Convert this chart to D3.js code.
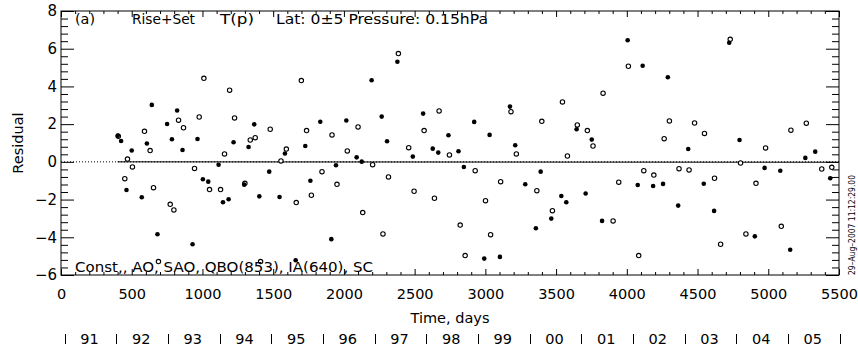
<!DOCTYPE html>
<html>
<head>
<meta charset="utf-8">
<script src="https://cdn.jsdelivr.net/npm/d3@7"></script>
<style>
  html, body { margin: 0; padding: 0; background: #fff; }
  svg { display: block; }
  text { font-family: "DejaVu Sans", "Liberation Sans", sans-serif; fill: #000; }
</style>
</head>
<body>
<svg id="chart" width="858" height="349"></svg>
<script>
// ---- data ----
const filledDays = [401,425,463,500,571,607,642,682,750,784,821,859,930,965,1003,1041,1114,1145,1185,1220,1295,1326,1366,1402,1472,1545,1583,1659,1727,1763,1833,1911,1944,2017,2090,2126,2196,2267,2305,2378,2487,2560,2628,2667,2739,2810,2848,2921,2992,3030,3103,3174,3211,3282,3357,3391,3466,3537,3572,3645,3709,3752,3825,4006,4077,4112,4186,4256,4290,4363,4434,4544,4617,4724,4797,4905,4974,5085,5155,5262,5332,5438];
const filledValues = [1.39,1.11,-1.49,0.60,-1.88,0.97,3.02,-3.84,2.01,1.20,2.72,0.63,-4.37,1.21,-0.92,-1.05,-0.15,-2.14,-1.98,1.04,-1.21,0.79,1.99,-1.83,-0.52,-1.86,0.44,-5.22,0.84,-1.00,2.13,-4.10,-0.18,2.19,0.24,0.01,4.33,2.40,1.09,5.31,0.28,2.56,0.70,0.49,1.41,0.56,-0.27,2.12,-5.13,1.43,-5.04,2.93,0.88,-1.19,-3.52,-0.52,-3.01,-1.81,-2.14,1.73,-1.68,1.18,-3.13,6.45,-1.23,5.10,-1.28,-1.17,4.49,-2.32,0.68,-1.16,-2.60,6.32,1.16,-3.95,-0.32,-0.47,-4.66,0.21,0.54,-0.87];

const openDays = [405,451,470,505,590,630,654,689,772,798,831,866,944,977,1010,1050,1128,1156,1192,1227,1300,1338,1373,1411,1479,1555,1593,1663,1699,1736,1770,1845,1916,1951,2024,2100,2133,2203,2276,2315,2385,2458,2496,2567,2640,2673,2746,2822,2857,2928,3001,3037,3108,3181,3219,3364,3399,3474,3545,3580,3650,3721,3761,3832,3903,3943,4011,4084,4120,4191,4264,4301,4369,4440,4479,4549,4620,4663,4731,4804,4842,4913,4981,5092,5160,5269,5378,5449];
const openValues = [1.36,-0.89,0.15,-0.27,1.62,0.60,-1.37,-5.29,-2.25,-2.55,2.21,1.81,-0.35,2.38,4.43,-1.47,-1.47,0.42,3.80,2.33,-1.14,1.16,1.28,-5.29,1.73,0.05,0.68,-2.16,4.31,1.66,-1.77,-0.52,1.43,-1.19,0.58,1.85,-2.69,-0.15,-3.82,-0.80,5.74,0.75,-1.56,1.66,-1.93,2.70,0.37,-3.35,-4.97,-0.47,-2.06,-3.86,-1.05,2.66,0.42,-1.53,2.15,-2.59,3.18,0.31,1.96,1.66,0.84,3.64,-3.13,-1.08,5.07,-4.97,-0.47,-0.70,1.23,2.17,-0.36,-0.43,2.06,1.51,-0.87,-4.37,6.50,-0.06,-3.82,-1.14,0.74,-3.42,1.68,2.05,-0.38,-0.29];

const trendDays = [400, 5500];
const trendValues = [0.0, -0.02];

const xTicks = [0,500,1000,1500,2000,2500,3000,3500,4000,4500,5000,5500];
const yTicks = [-6,-4,-2,0,2,4,6,8];
const yearLabels = ["91","92","93","94","95","96","97","98","99","00","01","02","03","04","05"];
const yearStartDay = 26;      // day number of 1 Jan 1991
const yearLength = 365.25;

const titleParts = ["(a)", "Rise+Set", "T(p)", "Lat: 0\u00b15 Pressure: 0.15hPa"];
const legendText = "Const,, AO, SAO, QBO(853), IA(640), SC";
const stampText = "29\u2013Aug\u20132007 11:12:29.00";
const xTitle = "Time, days";
const yTitle = "Residual";

// ---- layout ----
const L = 61, R = 839, T = 11, B = 275;
const svg = d3.select("#chart");
const x = d3.scaleLinear().domain([0, 5500]).range([L, R]);
const y = d3.scaleLinear().domain([-6, 8]).range([B, T]);

const g = svg.append("g");

// zero dotted line
g.append("line")
  .attr("x1", x(0)).attr("x2", x(5500))
  .attr("y1", y(0)).attr("y2", y(0))
  .attr("stroke", "#000").attr("stroke-width", 1)
  .attr("stroke-dasharray", "1,2");

// trend line
g.append("path")
  .datum(trendDays.map((d, i) => [d, trendValues[i]]))
  .attr("d", d3.line().x(d => x(d[0])).y(d => y(d[1])))
  .attr("stroke", "#000").attr("stroke-width", 1).attr("fill", "none");

// axes (ticks inward) using d3 axes
const minorX = d3.range(0, 5501, 100).filter(v => v % 500 !== 0);
const minorY = d3.range(0, 36).map(i => -6 + i * 0.4).filter((v, i) => i % 5 !== 0);

function styleAxis(sel) {
  sel.select(".domain").remove();
  sel.selectAll("line").attr("stroke", "#000").attr("stroke-width", 1);
}

// bottom
g.append("g").attr("transform", `translate(0,${B})`)
  .call(d3.axisBottom(x).tickValues(xTicks).tickSize(-6).tickPadding(14).tickFormat(d => d))
  .call(styleAxis)
  .call(s => s.selectAll("text").attr("font-size", 14.5).attr("font-family", "DejaVu Sans").attr("dy", "0.71em"));
g.append("g").attr("transform", `translate(0,${B})`)
  .call(d3.axisBottom(x).tickValues(minorX).tickSize(-3).tickFormat(""))
  .call(styleAxis);
// top
g.append("g").attr("transform", `translate(0,${T})`)
  .call(d3.axisTop(x).tickValues(xTicks).tickSize(-6).tickFormat(""))
  .call(styleAxis);
g.append("g").attr("transform", `translate(0,${T})`)
  .call(d3.axisTop(x).tickValues(minorX).tickSize(-3).tickFormat(""))
  .call(styleAxis);
// left
g.append("g").attr("transform", `translate(${L},0)`)
  .call(d3.axisLeft(y).tickValues(yTicks).tickSize(-13).tickPadding(5).tickFormat(d => d < 0 ? "\u2212" + Math.abs(d) : d))
  .call(styleAxis)
  .call(s => s.selectAll("text").attr("font-size", 15).attr("font-family", "DejaVu Sans").attr("x", -4));
g.append("g").attr("transform", `translate(${L},0)`)
  .call(d3.axisLeft(y).tickValues(minorY).tickSize(-7).tickFormat(""))
  .call(styleAxis);
// right
g.append("g").attr("transform", `translate(${R},0)`)
  .call(d3.axisRight(y).tickValues(yTicks).tickSize(-13).tickFormat(""))
  .call(styleAxis);
g.append("g").attr("transform", `translate(${R},0)`)
  .call(d3.axisRight(y).tickValues(minorY).tickSize(-7).tickFormat(""))
  .call(styleAxis);

// frame
g.append("rect").attr("x", L).attr("y", T).attr("width", R - L).attr("height", B - T)
  .attr("fill", "none").attr("stroke", "#000").attr("stroke-width", 1);

// points
g.append("g").selectAll("circle")
  .data(openDays.map((d, i) => [d, openValues[i]]))
  .join("circle")
  .attr("cx", d => x(d[0])).attr("cy", d => y(d[1])).attr("r", 2.2)
  .attr("fill", "#fff").attr("stroke", "#000").attr("stroke-width", 1.1);
g.append("g").selectAll("circle")
  .data(filledDays.map((d, i) => [d, filledValues[i]]))
  .join("circle")
  .attr("cx", d => x(d[0])).attr("cy", d => y(d[1])).attr("r", 2.3)
  .attr("fill", "#000");

// title parts
const titleX = [75, 132, 220, 276];
const titleW = [20, 63, 34, 212];
titleParts.forEach((t, i) => {
  g.append("text").attr("x", titleX[i]).attr("y", 24).attr("font-size", 14)
    .attr("textLength", titleW[i]).attr("lengthAdjust", "spacingAndGlyphs").text(t);
});

// legend
g.append("text").attr("x", 75).attr("y", 272).attr("font-size", 14)
  .attr("textLength", 298).attr("lengthAdjust", "spacingAndGlyphs").text(legendText);

// axis titles
svg.append("text").attr("x", (L + R) / 2).attr("y", 323).attr("text-anchor", "middle")
  .attr("font-size", 14.5).text(xTitle);
svg.append("text").attr("transform", `translate(23,${(T + B) / 2}) rotate(-90)`)
  .attr("text-anchor", "middle").attr("font-size", 14.5).text(yTitle);

// date stamp
svg.append("text").attr("transform", `translate(855,275) rotate(-90)`)
  .attr("font-size", 8).attr("textLength", 100).attr("lengthAdjust", "spacingAndGlyphs").text(stampText);

// year row
const yearBars = d3.range(0, yearLabels.length + 1).map(k => yearStartDay + k * yearLength);
svg.append("g").selectAll("line")
  .data(yearBars)
  .join("line")
  .attr("x1", d => Math.round(x(d)) + 0.5).attr("x2", d => Math.round(x(d)) + 0.5)
  .attr("y1", 334).attr("y2", 344)
  .attr("stroke", "#000").attr("stroke-width", 1);
svg.append("g").selectAll("text")
  .data(yearLabels)
  .join("text")
  .attr("x", (d, i) => x(yearStartDay + (i + 0.5) * yearLength) - 1).attr("y", 344)
  .attr("text-anchor", "middle").attr("font-size", 14.5).text(d => d);
</script>
</body>
</html>
